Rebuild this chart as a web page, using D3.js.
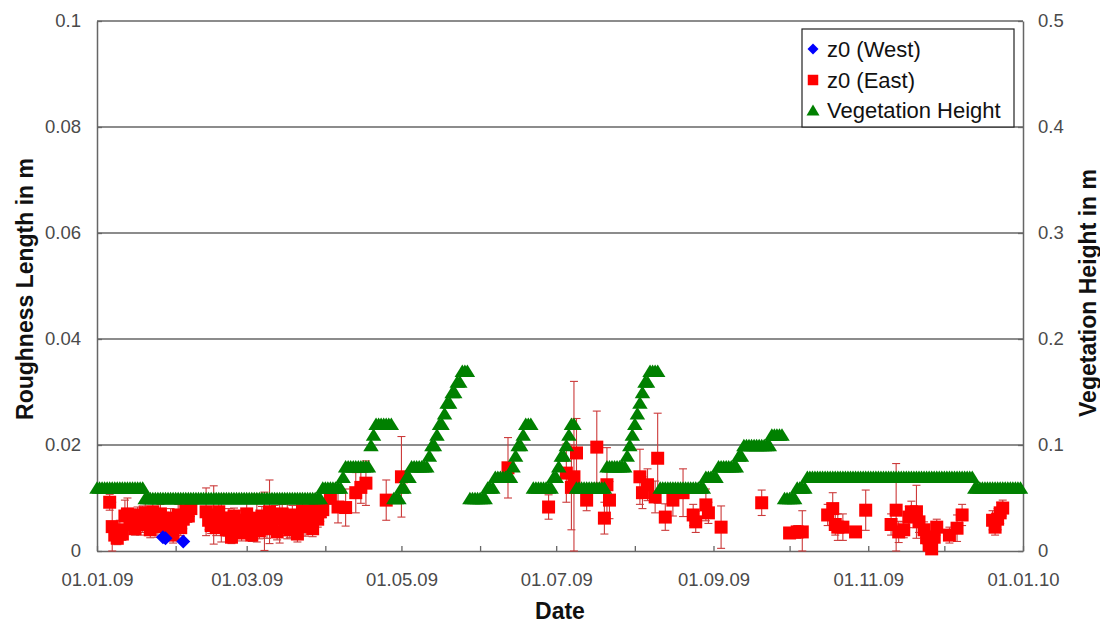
<!DOCTYPE html>
<html><head><meta charset="utf-8">
<script src="https://cdn.jsdelivr.net/npm/d3@7"></script>
<style>
body{margin:0;background:#fff}
svg{display:block}
</style>
</head><body>
<svg id="c" width="1100" height="624"></svg>
<script>
// ---------- DATA ----------
// Vegetation height (m), daily values per month of 2009 (right axis)
const vegJan=[0.06,0.06,0.06,0.06,0.06,0.06,0.06,0.06,0.06,0.06,
 0.06,0.06,0.06,0.06,0.06,0.06,0.06,0.06,0.06,0.05,
 0.05,0.05,0.05,0.05,0.05,0.05,0.05,0.05,0.05,0.05,
 0.05];
const vegFeb=[0.05,0.05,0.05,0.05,0.05,0.05,0.05,0.05,0.05,0.05,
 0.05,0.05,0.05,0.05,0.05,0.05,0.05,0.05,0.05,0.05,
 0.05,0.05,0.05,0.05,0.05,0.05,0.05,0.05];
const vegMar=[0.05,0.05,0.05,0.05,0.05,0.05,0.05,0.05,0.05,0.05,
 0.05,0.05,0.05,0.05,0.05,0.05,0.05,0.05,0.05,0.05,
 0.05,0.05,0.05,0.05,0.05,0.05,0.05,0.05,0.05,0.05,
 0.06];
const vegApr=[0.06,0.06,0.06,0.06,0.06,0.06,0.06,0.07,0.08,0.08,
 0.08,0.08,0.08,0.08,0.08,0.08,0.08,0.08,0.10,0.11,
 0.12,0.12,0.12,0.12,0.12,0.12,0.12,0.05,0.05,0.05];
const vegMay=[0.06,0.06,0.07,0.07,0.08,0.08,0.08,0.08,0.08,0.08,
 0.08,0.09,0.10,0.10,0.11,0.12,0.12,0.13,0.14,0.14,
 0.15,0.15,0.16,0.16,0.17,0.17,0.17,0.05,0.05,0.05,
 0.05];
const vegJun=[0.05,0.05,0.05,0.06,0.06,0.06,0.07,0.07,0.07,0.07,
 0.07,0.07,0.07,0.08,0.09,0.10,0.10,0.11,0.12,0.12,
 0.12,0.06,0.06,0.06,0.06,0.06,0.06,0.06,0.06,0.07];
const vegJul=[0.07,0.08,0.09,0.09,0.10,0.11,0.12,0.12,0.06,0.06,
 0.06,0.06,0.06,0.06,0.06,0.06,0.06,0.06,0.06,0.06,
 0.08,0.08,0.08,0.08,0.08,0.08,0.08,0.08,0.09,0.10,
 0.11];
const vegAug=[0.12,0.13,0.14,0.15,0.16,0.16,0.17,0.17,0.17,0.17,
 0.06,0.06,0.06,0.06,0.06,0.06,0.06,0.06,0.06,0.06,
 0.06,0.06,0.06,0.06,0.06,0.06,0.06,0.06,0.07,0.07,
 0.07];
const vegSep=[0.07,0.07,0.08,0.08,0.08,0.08,0.08,0.08,0.08,0.08,
 0.09,0.09,0.10,0.10,0.10,0.10,0.10,0.10,0.10,0.10,
 0.10,0.10,0.10,0.11,0.11,0.11,0.11,0.11,0.05,0.05];
const vegOct=[0.05,0.05,0.05,0.06,0.06,0.06,0.06,0.07,0.07,0.07,
 0.07,0.07,0.07,0.07,0.07,0.07,0.07,0.07,0.07,0.07,
 0.07,0.07,0.07,0.07,0.07,0.07,0.07,0.07,0.07,0.07,
 0.07];
const vegNov=[0.07,0.07,0.07,0.07,0.07,0.07,0.07,0.07,0.07,0.07,
 0.07,0.07,0.07,0.07,0.07,0.07,0.07,0.07,0.07,0.07,
 0.07,0.07,0.07,0.07,0.07,0.07,0.07,0.07,0.07,0.07];
const vegDec=[0.07,0.07,0.07,0.07,0.07,0.07,0.07,0.07,0.07,0.07,
 0.07,0.07,0.06,0.06,0.06,0.06,0.06,0.06,0.06,0.06,
 0.06,0.06,0.06,0.06,0.06,0.06,0.06,0.06,0.06,0.06,
 0.06];

// z0 (West): day of year (0 = 01.01.09) and roughness length (m)
const westDay=[26,27,34];
const westZ0=[0.0026,0.0024,0.0018];

// z0 (East): day of year, roughness length (m), error (m)
const eastDay=[
 5,6,7,8,9,10,11,12,13,14, 15,16,17,18,19,20,21,22,23,24, 25,26,28,29,30,31,32,33,34,35, 36,37,
 43,44,45,46,47,48,49,50,51,52, 53,54,55,56,57,58,59,60,61,62, 63,64,65,66,67,68,69,70,71,72,
 73,74,75,76,77,78,79,80,81,82, 83,84,85,86,87,88,89,
 92,95,98,102,104,106,114,120,
 162,
 178,185,187,188,189,193,197,200,201,202,
 214,215,217,220,221,224,227,231,235,236,240,241,246,
 262,
 273,276,278,288,290,291,292,294,299,303,
 313,315,316,318,320,321,323,324,326,327,328,329,330,331,
 336,339,341,353,354,355,356,357];
const eastZ0=[
 .0092,.0046,.0030,.0024,.0040,.0032,.0066,.0070,.0050,.0064, .0042,.0068,.0050,.0060,.0072,.0056,.0040,.0074,.0060,.0046, .0070,.0062,.0040,.0062,.0030,.0052,.0068,.0044,.0060,.0076, .0066,.0080,
 .0074,.0058,.0048,.0068,.0044,.0074,.0062,.0052,.0040,.0062, .0026,.0066,.0042,.0054,.0034,.0058,.0070,.0052,.0030,.0048, .0062,.0038,.0066,.0056,.0042,.0074,.0050,.0068,.0036,.0060,
 .0070,.0044,.0058,.0040,.0068,.0052,.0032,.0064,.0076,.0046, .0070,.0056,.0042,.0078,.0060,.0074,.0078,
 .0100,.0083,.0082,.0110,.0120,.0128,.0096,.0140,
 .0157,
 .0083,.0147,.0120,.0140,.0185,.0096,.0196,.0062,.0125,.0096,
 .0140,.0110,.0125,.0102,.0175,.0064,.0096,.0110,.0068,.0055,.0087,.0072,.0045,
 .0091,
 .0034,.0036,.0036,.0068,.0080,.0050,.0045,.0045,.0036,.0077,
 .0050,.0077,.0036,.0040,.0064,.0074,.0074,.0055,.0040,.0025,.0011,.0004,.0026,.0045,
 .0030,.0043,.0068,.0058,.0045,.0060,.0072,.0081];
const eastErr=[
 .0015,.0046,.0015,.0012,.0018,.0012,.0030,.0030,.0018,.0015, .0012,.0015,.0020,.0025,.0018,.0015,.0015,.0018,.0012,.0020, .0018,.0015,.0015,.0018,.0015,.0012,.0020,.0015,.0018,.0015, .0012,.0015,
 .0045,.0018,.0015,.0055,.0015,.0018,.0045,.0015,.0012,.0018, .0012,.0015,.0018,.0015,.0015,.0018,.0025,.0015,.0012,.0018, .0045,.0015,.0018,.0055,.0018,.0060,.0015,.0018,.0015,.0045,
 .0018,.0015,.0035,.0015,.0018,.0012,.0015,.0018,.0025,.0018, .0015,.0018,.0015,.0018,.0015,.0018,.0015,
 .0012,.0030,.0035,.0038,.0030,.0042,.0038,.0076,
 .0057,
 .0023,.0055,.0080,.0180,.0065,.0020,.0068,.0030,.0070,.0035,
 .0052,.0030,.0030,.0030,.0085,.0025,.0030,.0045,.0020,.0020,.0030,.0020,.0040,
 .0024,
 .0010,.0012,.0040,.0020,.0030,.0020,.0025,.0025,.0010,.0038,
 .0020,.0088,.0020,.0015,.0020,.0020,.0050,.0020,.0015,.0012,.0010,.0005,.0012,.0015,
 .0015,.0025,.0020,.0018,.0015,.0020,.0020,.0015];

const leftTicks=[0,0.02,0.04,0.06,0.08,0.1];
const rightTicks=[0,0.1,0.2,0.3,0.4,0.5];
const dateTickLabels=["01.01.09","01.03.09","01.05.09","01.07.09","01.09.09","01.11.09","01.01.10"];
const seriesNames=["z0 (West)","z0 (East)","Vegetation Height"];
const axisTitles={left:"Roughness Length in m",right:"Vegetation Height in m",bottom:"Date"};

// ---------- CHART ----------
const FONT='"Liberation Sans", Arial, Helvetica, sans-serif';
const svg=d3.select("#c");
const L=97,R=1023,T=21,B=551;
const start=new Date(2009,0,1), end=new Date(2010,0,1);
const x=d3.scaleTime().domain([start,end]).range([L,R]);
const yL=d3.scaleLinear().domain([0,0.1]).range([B,T]);
const yR=d3.scaleLinear().domain([0,0.5]).range([B,T]);

const vegMonths=[vegJan,vegFeb,vegMar,vegApr,vegMay,vegJun,vegJul,vegAug,vegSep,vegOct,vegNov,vegDec];
const veg=[];
vegMonths.forEach((arr,m)=>arr.forEach((v,i)=>veg.push({date:new Date(2009,m,i+1),v})));
const west=westDay.map((d,i)=>({date:d3.timeDay.offset(start,d),v:westZ0[i]}));
const east=eastDay.map((d,i)=>({date:d3.timeDay.offset(start,d),v:eastZ0[i],e:eastErr[i]}));

// gridlines
svg.append("g").selectAll("line").data(leftTicks.filter(t=>t>0)).join("line")
  .attr("x1",L).attr("x2",R).attr("y1",d=>yL(d)).attr("y2",d=>yL(d))
  .attr("stroke","#666").attr("stroke-width",1.5);

const TICKCOL="#4a4a4a";
function styleAxis(g){
  g.attr("font-family",FONT).attr("font-size",18.5);
  g.selectAll("text").attr("fill",TICKCOL);
  g.selectAll("line").attr("stroke","#666").attr("stroke-width",1.3);
  g.select(".domain").attr("stroke","#666").attr("stroke-width",1.5);
}
const fmt=d=>d===0?"0":String(d);
svg.append("g").attr("transform",`translate(${L},0)`)
  .call(d3.axisLeft(yL).tickValues(leftTicks).tickFormat(fmt).tickSizeInner(-5).tickSizeOuter(0).tickPadding(16))
  .call(styleAxis);
svg.append("g").attr("transform",`translate(${R},0)`)
  .call(d3.axisRight(yR).tickValues(rightTicks).tickFormat(fmt).tickSizeInner(-5).tickSizeOuter(0).tickPadding(15))
  .call(styleAxis);
const monthTicks=d3.timeMonth.range(start,d3.timeDay.offset(end,1));
svg.append("g").attr("transform",`translate(0,${B})`)
  .call(d3.axisBottom(x).tickValues(monthTicks).tickFormat((d,i)=>i%2===0?dateTickLabels[i/2]:"")
    .tickSizeInner(-5).tickSizeOuter(0).tickPadding(22))
  .call(styleAxis);

// error bars (East)
const eb=svg.append("g").attr("stroke","#cc3a3a").attr("stroke-width",1.1);
const yClamp=v=>yL(Math.max(0,v));
east.forEach(d=>{
  const cx=x(d.date), y1=yL(d.v+d.e), y0=yClamp(d.v-d.e);
  eb.append("line").attr("x1",cx).attr("x2",cx).attr("y1",y1).attr("y2",y0);
  eb.append("line").attr("x1",cx-4).attr("x2",cx+4).attr("y1",y1).attr("y2",y1);
  eb.append("line").attr("x1",cx-4).attr("x2",cx+4).attr("y1",y0).attr("y2",y0);
});

// markers
const sq=s=>`M${-s/2},${-s/2}h${s}v${s}h${-s}Z`;
const dia=s=>`M0,${-s}L${s},0L0,${s}L${-s},0Z`;
const tri=(w,h)=>`M0,${-h/2}L${w/2},${h/2}L${-w/2},${h/2}Z`;

svg.append("g").selectAll("path").data(east).join("path")
  .attr("d",sq(13)).attr("fill","#ff0000")
  .attr("transform",d=>`translate(${x(d.date)},${yL(d.v)})`);
svg.append("g").selectAll("path").data(west).join("path")
  .attr("d",dia(7)).attr("fill","#0000ff")
  .attr("transform",d=>`translate(${x(d.date)},${yL(d.v)})`);
svg.append("g").selectAll("path").data(veg).join("path")
  .attr("d",tri(15.5,12.5)).attr("fill","#008000")
  .attr("transform",d=>`translate(${x(d.date)},${yR(d.v)})`);

// axis titles
svg.append("text").attr("transform","translate(25,289) rotate(-90)")
  .attr("text-anchor","middle").attr("dominant-baseline","central")
  .attr("font-family",FONT).attr("font-weight","bold").attr("font-size",23).attr("fill","#111")
  .text(axisTitles.left);
svg.append("text").attr("transform","translate(1088,293) rotate(-90)")
  .attr("text-anchor","middle").attr("dominant-baseline","central")
  .attr("font-family",FONT).attr("font-weight","bold").attr("font-size",23).attr("fill","#111")
  .text(axisTitles.right);
svg.append("text").attr("x",(L+R)/2).attr("y",611)
  .attr("text-anchor","middle").attr("dominant-baseline","central")
  .attr("font-family",FONT).attr("font-weight","bold").attr("font-size",23).attr("fill","#111")
  .text(axisTitles.bottom);

// legend
const lg=svg.append("g");
lg.append("rect").attr("x",802).attr("y",29).attr("width",212).attr("height",98)
  .attr("fill","#fff").attr("stroke","#222").attr("stroke-width",1.2);
const legendY=[49,80,110];
const legendShapes=[{d:dia(5.5),c:"#0000ff"},{d:sq(10.5),c:"#ff0000"},{d:tri(13,11),c:"#008000"}];
seriesNames.forEach((name,i)=>{
  lg.append("path").attr("d",legendShapes[i].d).attr("fill",legendShapes[i].c)
    .attr("transform",`translate(813,${legendY[i]})`);
  lg.append("text").attr("x",827).attr("y",legendY[i]).attr("dominant-baseline","central")
    .attr("font-family",FONT).attr("font-size",22).attr("fill","#111").text(name);
});
</script>
</body></html>
